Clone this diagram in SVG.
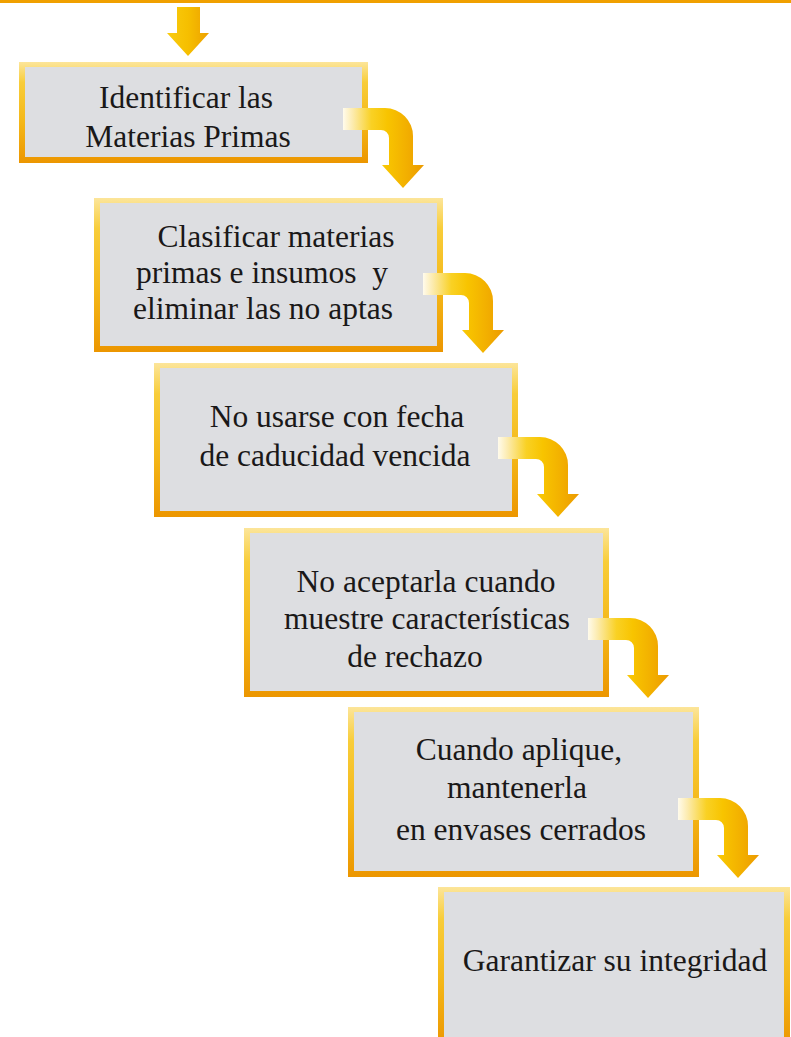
<svg xmlns="http://www.w3.org/2000/svg" width="791" height="1037" viewBox="0 0 791 1037">
<defs>
<linearGradient id="frame" x1="0" y1="0" x2="0" y2="1">
<stop offset="0" stop-color="#fce59a"/>
<stop offset="0.2" stop-color="#f8cd3a"/>
<stop offset="0.6" stop-color="#f4b718"/>
<stop offset="1" stop-color="#ec9600"/>
</linearGradient>
<linearGradient id="bent" x1="0" y1="0" x2="1" y2="0">
<stop offset="0" stop-color="#fffbec"/>
<stop offset="0.12" stop-color="#fcebae"/>
<stop offset="0.35" stop-color="#f9d124"/>
<stop offset="0.55" stop-color="#f8c400"/>
<stop offset="0.8" stop-color="#f2ae00"/>
<stop offset="1" stop-color="#ec9a00"/>
</linearGradient>
<linearGradient id="down" x1="0" y1="0" x2="1" y2="0">
<stop offset="0" stop-color="#f9cc10"/>
<stop offset="0.5" stop-color="#f6bf00"/>
<stop offset="1" stop-color="#eda000"/>
</linearGradient>
<path id="bentArrow" d="M0,0 H42 A28,28 0 0 1 70,28 V57 H81 L60,80 L39,57 H46 V30 A8,8 0 0 0 38,22 H0 Z"/>
</defs>
<style>
.frame{fill:url(#frame)}
.body{fill:#dddee1}
.t{font-size:31.5px;fill:#1a1818;text-anchor:middle;white-space:pre}
.arr{fill:url(#bent)}
</style>
<rect x="0" y="0" width="791" height="1037" fill="#ffffff"/>
<rect x="0" y="0" width="791" height="3" fill="#f0a000"/>

<g id="node1" font-family="'Liberation Serif', Tinos, 'DejaVu Serif', serif">
<rect class="frame" x="19" y="62" width="349" height="101"/>
<rect class="body" x="25" y="67" width="337" height="90"/>
<text class="t" x="186" y="108">Identificar las</text>
<text class="t" x="188" y="147">Materias Primas</text>
</g>
<g id="node2" font-family="'Liberation Serif', Tinos, 'DejaVu Serif', serif">
<rect class="frame" x="94" y="198" width="349" height="154"/>
<rect class="body" x="100" y="203" width="337" height="143"/>
<text class="t" x="276" y="247">Clasificar materias</text>
<text class="t" x="262" y="283">primas e insumos  y</text>
<text class="t" x="263" y="319">eliminar las no aptas</text>
</g>
<g id="node3" font-family="'Liberation Serif', Tinos, 'DejaVu Serif', serif">
<rect class="frame" x="154" y="363" width="364" height="154"/>
<rect class="body" x="160" y="368" width="352" height="143"/>
<text class="t" x="337" y="427">No usarse con fecha</text>
<text class="t" x="335" y="466">de caducidad vencida</text>
</g>
<g id="node4" font-family="'Liberation Serif', Tinos, 'DejaVu Serif', serif">
<rect class="frame" x="244" y="528" width="365" height="169"/>
<rect class="body" x="250" y="533" width="353" height="158"/>
<text class="t" x="426" y="592">No aceptarla cuando</text>
<text class="t" x="427" y="629">muestre características</text>
<text class="t" x="415" y="667">de rechazo</text>
</g>
<g id="node5" font-family="'Liberation Serif', Tinos, 'DejaVu Serif', serif">
<rect class="frame" x="348" y="707" width="351" height="170"/>
<rect class="body" x="354" y="712" width="339" height="159"/>
<text class="t" x="519" y="760">Cuando aplique,</text>
<text class="t" x="517" y="798">mantenerla</text>
<text class="t" x="521" y="840">en envases cerrados</text>
</g>
<g id="node6" font-family="'Liberation Serif', Tinos, 'DejaVu Serif', serif">
<rect class="frame" x="438" y="887" width="352" height="160"/>
<rect class="body" x="444" y="892" width="340" height="160"/>
<text class="t" x="615" y="971">Garantizar su integridad</text>
</g>

<g id="connectors">
<path d="M177,7 H200 V33 H209 L188,56 L167,33 H177 Z" fill="url(#down)"/>
<use href="#bentArrow" class="arr" transform="translate(343,108)"/>
<use href="#bentArrow" class="arr" transform="translate(423,273)"/>
<use href="#bentArrow" class="arr" transform="translate(498,437)"/>
<use href="#bentArrow" class="arr" transform="translate(588,618)"/>
<use href="#bentArrow" class="arr" transform="translate(678,798)"/>
</g>
</svg>
